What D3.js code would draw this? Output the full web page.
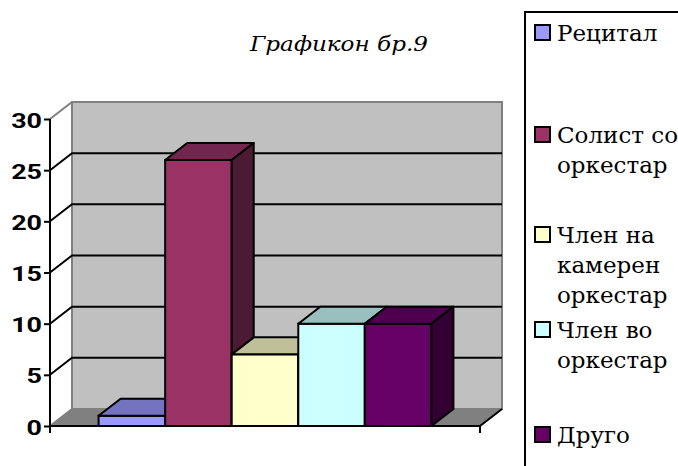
<!DOCTYPE html>
<html>
<head>
<meta charset="utf-8">
<script src="https://cdn.jsdelivr.net/npm/d3@7"></script>
<style>
  body { margin: 0; background: white; }
  svg { display: block; }
  .serif { font-family: 'DejaVu Serif', serif; }
  .sans { font-family: Roboto, 'Liberation Sans', sans-serif; }
</style>
</head>
<body>
<div id="container"></div>
<script>
let w = 678;
let h = 466;

// DATA
let series = ["Рецитал", "Солист со оркестар", "Член на камерен оркестар", "Член во оркестар", "Друго"];
let values = [1, 26, 7, 10, 10];
let colors = ["#9999FF", "#993366", "#FFFFCC", "#CCFFFF", "#660066"];
let legendLines = [["Рецитал"], ["Солист со", "оркестар"], ["Член на", "камерен", "оркестар"], ["Член во", "оркестар"], ["Друго"]];
let yTicks = [0, 5, 10, 15, 20, 25, 30];
let title = "Графикон бр.9";

// depth of the 3d box
let dx = 22;
let dy = -17;

let viz = d3.select("#container").append("svg")
    .attr("width", w)
    .attr("height", h)
;

let yScale = d3.scaleLinear().domain([0, 30]).range([426, 119]);
let xScale = d3.scaleBand().domain(series).range([50, 480]).paddingOuter(0.73).paddingInner(0);

let x0 = 50, x1 = 480;
let yb = yScale(0), yt = yScale(30);

// back wall
viz.append("rect")
    .attr("x", x0 + dx).attr("y", yt + dy)
    .attr("width", x1 - x0).attr("height", yb - yt)
    .attr("fill", "#C0C0C0")
    .attr("stroke", "#808080").attr("stroke-width", 2);

// floor
viz.append("polygon")
    .attr("points", [[x0, yb], [x1, yb], [x1 + dx, yb + dy], [x0 + dx, yb + dy]].join(" "))
    .attr("fill", "#808080");

// side wall top edge and floor left edge
viz.append("line")
    .attr("x1", x0).attr("y1", yt).attr("x2", x0 + dx).attr("y2", yt + dy)
    .attr("stroke", "#808080").attr("stroke-width", 2);
viz.append("line")
    .attr("x1", x0).attr("y1", yb).attr("x2", x0 + dx).attr("y2", yb + dy)
    .attr("stroke", "#808080").attr("stroke-width", 2);

// gridlines
let grid = yTicks.filter(function(d){ return d > 0 && d < 30; });
viz.selectAll(".grid").data(grid).enter()
  .append("path")
    .attr("class", "grid")
    .attr("d", function(d){
      let y = yScale(d);
      return "M" + x0 + "," + y + "L" + (x0 + dx) + "," + (y + dy) + "L" + (x1 + dx) + "," + (y + dy);
    })
    .attr("fill", "none")
    .attr("stroke", "black")
    .attr("stroke-width", 2);

// floor right edge
viz.append("line")
    .attr("x1", x1).attr("y1", yb).attr("x2", x1 + dx).attr("y2", yb + dy)
    .attr("stroke", "black").attr("stroke-width", 2);

// bars
function shade(c, k){
  let col = d3.rgb(c);
  return d3.rgb(col.r * k, col.g * k, col.b * k).formatHex();
}
series.forEach(function(s, i){
  let bx = xScale(s);
  let bw = xScale.bandwidth();
  let by = yScale(values[i]);
  let g = viz.append("g");
  g.append("rect")
    .attr("x", bx).attr("y", by).attr("width", bw).attr("height", yb - by)
    .attr("fill", colors[i]).attr("stroke", "black").attr("stroke-width", 2);
  g.append("polygon")
    .attr("points", [[bx, by], [bx + dx, by + dy], [bx + bw + dx, by + dy], [bx + bw, by]].join(" "))
    .attr("fill", shade(colors[i], 0.75)).attr("stroke", "black").attr("stroke-width", 2)
    .attr("stroke-linejoin", "round");
  g.append("polygon")
    .attr("points", [[bx + bw, by], [bx + bw + dx, by + dy], [bx + bw + dx, yb + dy], [bx + bw, yb]].join(" "))
    .attr("fill", shade(colors[i], 0.5)).attr("stroke", "black").attr("stroke-width", 2)
    .attr("stroke-linejoin", "round");
});

// front baseline and axis
viz.append("line")
    .attr("x1", x0).attr("y1", yb).attr("x2", x1).attr("y2", yb)
    .attr("stroke", "black").attr("stroke-width", 2);
viz.append("line")
    .attr("x1", x1).attr("y1", yb).attr("x2", x1).attr("y2", yb + 7)
    .attr("stroke", "black").attr("stroke-width", 2);

let yAxis = d3.axisLeft(yScale).tickValues(yTicks).tickSize(6).tickSizeOuter(0);
let ag = viz.append("g")
    .attr("transform", "translate(" + x0 + ",0)")
    .call(yAxis);
ag.attr("font-family", null).attr("font-size", null);
ag.select(".domain").attr("stroke", "black").attr("stroke-width", 2)
    .attr("d", "M0," + yt + "V" + (yb + 7));
ag.selectAll(".tick line").attr("stroke", "black").attr("stroke-width", 2);
ag.selectAll(".tick text")
    .attr("x", null).attr("dy", null)
    .attr("class", "sans")
    .attr("transform", "translate(-8,8) scale(1.28,1)")
    .style("font-weight", "bold")
    .style("font-size", "21px")
    .attr("fill", "black");

// title
viz.append("text")
    .attr("class", "serif")
    .attr("transform", "translate(339,51) scale(1.1,1)")
    .attr("text-anchor", "middle")
    .style("font-style", "italic")
    .style("font-size", "21px")
    .text(title);

// legend
viz.append("rect")
    .attr("x", 525).attr("y", 12).attr("width", 220).attr("height", 500)
    .attr("fill", "white").attr("stroke", "black").attr("stroke-width", 2);

let legendY = [41, 143, 243, 338, 443];
legendLines.forEach(function(lines, i){
  let g = viz.append("g").attr("transform", "translate(0," + legendY[i] + ")");
  g.append("rect")
    .attr("x", 535).attr("y", -16).attr("width", 15).attr("height", 15)
    .attr("fill", colors[i]).attr("stroke", "black").attr("stroke-width", 2);
  lines.forEach(function(t, j){
    g.append("text")
      .attr("class", "serif")
      .attr("x", 557).attr("y", j * 30)
      .style("font-size", "23px")
      .attr("fill", "black")
      .text(t);
  });
});
</script>
</body>
</html>
